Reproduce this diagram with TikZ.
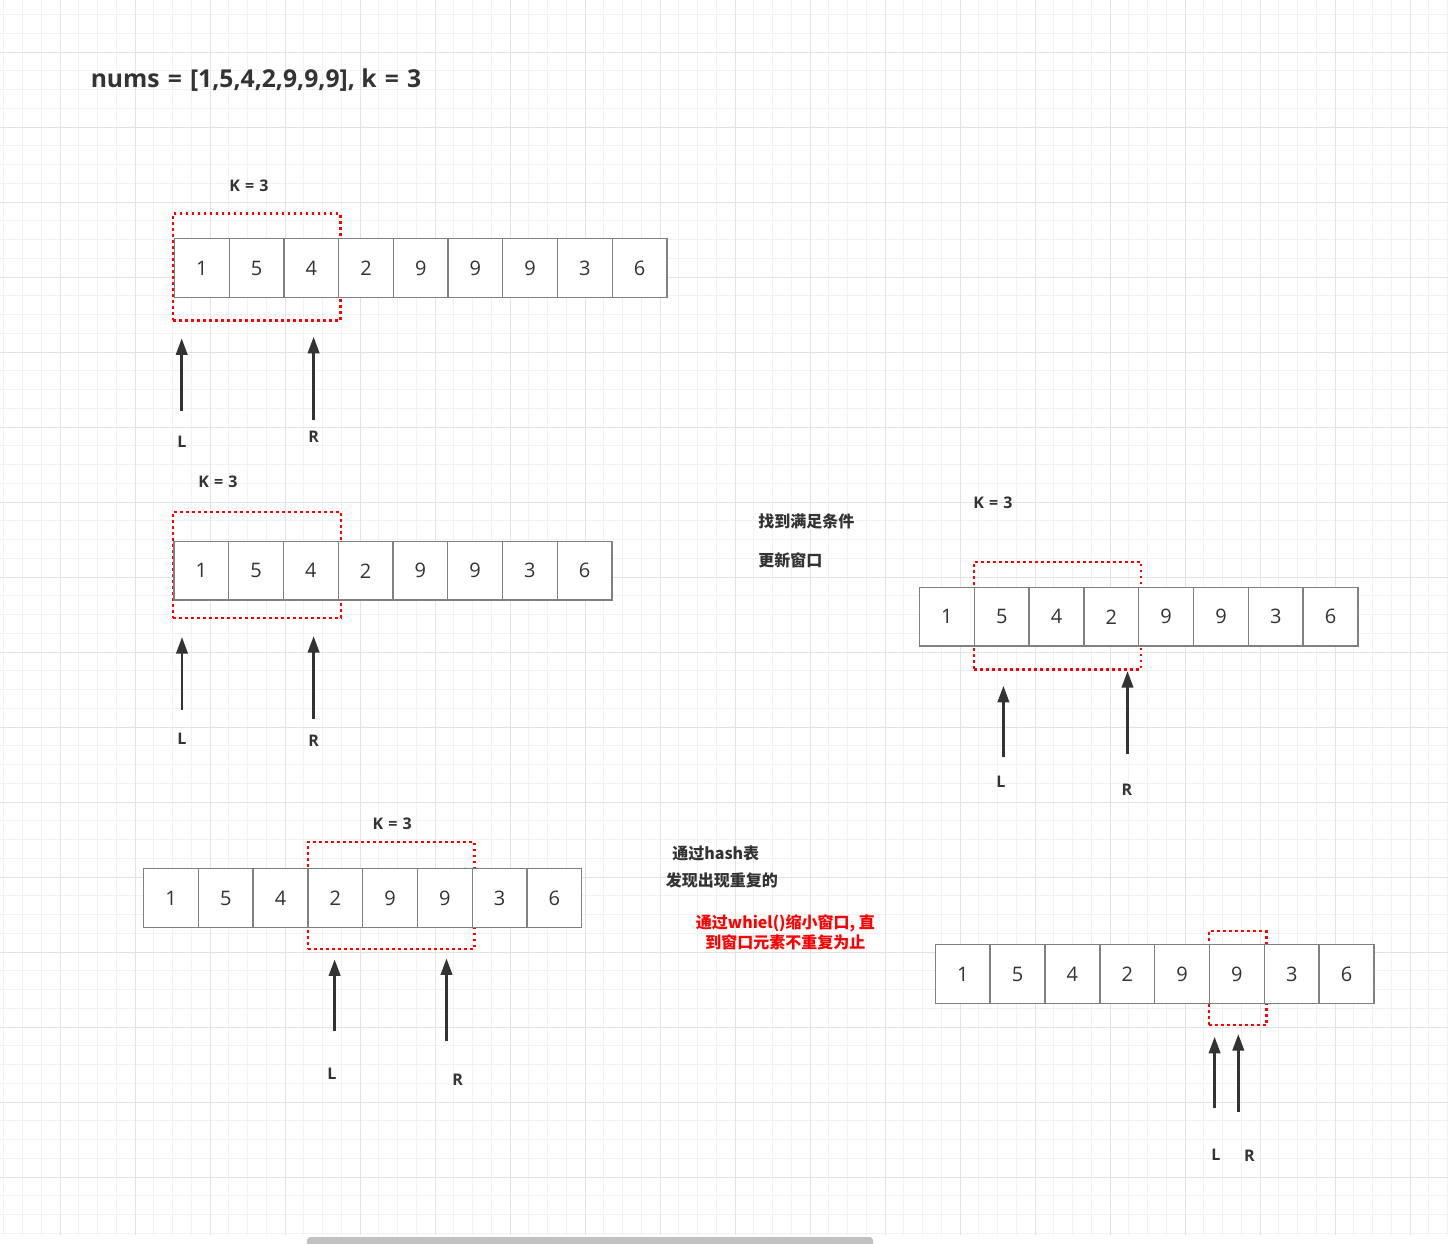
\documentclass[tikz,border=0pt]{standalone}
\usepackage{fontspec}
\setmainfont{Open Sans}
\newfontfamily\cjk{Noto Sans CJK SC}
\usetikzlibrary{arrows.meta}
\definecolor{txt}{HTML}{333333}
\definecolor{cellbd}{HTML}{808080}
\definecolor{gminor}{HTML}{F2F2F2}
\definecolor{gmajor}{HTML}{E3E3E3}
\definecolor{scrollc}{HTML}{C1C1C1}
\definecolor{winred}{HTML}{FF0000}
\tikzset{
  cell/.style={draw=cellbd, fill=white, line width=1pt, minimum width=41.06pt, minimum height=43.9pt,
    inner sep=0pt, outer sep=0pt, text=txt, font=\fontsize{15}{15}\selectfont},
  win/.style={draw=winred, line width=1.8pt, dash pattern=on 2.1pt off 2.4pt, inner sep=0pt, outer sep=0pt},
  ptr/.style={draw=txt, line width=2.2pt, -{Triangle[length=12.5pt,width=8.5pt]}, fill=txt},
  klabel/.style={text=txt, font=\bfseries\fontsize{12}{12}\selectfont, inner sep=0pt},
  plabel/.style={text=txt, font=\bfseries\fontsize{12}{12}\selectfont, inner sep=0pt},
  note/.style={text=txt, font=\cjk\bfseries\fontsize{12}{12}\selectfont, inner sep=0pt, anchor=west},
  rednote/.style={text=winred, font=\cjk\bfseries\fontsize{12}{15}\selectfont, inner sep=0pt, align=center}
}
\newcommand{\keq}{K\hspace{0.32em}=\hspace{0.32em}3}
\begin{document}
\begin{tikzpicture}[x=0.75pt,y=-0.75pt]
\useasboundingbox (0,0) rectangle (1448,1243);
\fill[white] (0,0) rectangle (1448,1243);
% grid
\foreach \i in {0,...,77} \draw[gminor, line width=0.75pt] ({3.75+18.75*\i},0) -- ({3.75+18.75*\i},1235);
\foreach \j in {0,...,65} \draw[gminor, line width=0.75pt] (0,{14.5+18.75*\j}) -- (1448,{14.5+18.75*\j});
\foreach \i in {0,...,18} \draw[gmajor, line width=0.75pt] ({60+75*\i},0) -- ({60+75*\i},1235);
\foreach \j in {0,...,15} \draw[gmajor, line width=0.75pt] (0,{52+75*\j}) -- (1448,{52+75*\j});
% scrollbar
\begin{scope}
\clip (0,0) rectangle (1448,1243);
\fill[scrollc, rounded corners=2.5pt] (307,1237) rectangle (873,1252);
\end{scope}

% title
\node[text=txt, font=\bfseries\fontsize{18.5}{18.5}\selectfont, anchor=west, inner sep=0pt] (title) at (90.5,80) {nums\hspace{0.33em}=\hspace{0.33em}[1,5,4,2,9,9,9], k\hspace{0.33em}=\hspace{0.33em}3};

% ---------- row 1 ----------
\node[win, minimum width=125.5pt, minimum height=80pt] (w1) at (256.7,267) {};
\foreach \v [count=\i] in {1,5,4,2,9,9,9,3,6}
  \node[cell] (a\i) at ({174.5+(\i-0.5)*54.72},268) {\v};
\node[klabel] (k1) at (249,186) {\keq};
\coordinate (l1s) at (181.7,410.7); \coordinate (l1e) at (181.7,338.3);
\coordinate (r1s) at (313.6,420); \coordinate (r1e) at (313.6,336.7);
\draw[ptr] (l1s) -- (l1e);
\draw[ptr] (r1s) -- (r1e);
\node[plabel] (L1) at (182,441.5) {L};
\node[plabel] (R1) at (313.6,436.5) {R};

% ---------- row 2 ----------
\node[win, minimum width=126pt, minimum height=79.5pt] (w2) at (257,565) {};
\foreach \v [count=\i] in {1,5,4,2,9,9,3,6}
  \node[cell] (b\i) at ({174+(\i-0.5)*54.75},570.75) {\v};
\node[klabel] (k2) at (218,482) {\keq};
\coordinate (l2s) at (182,710); \coordinate (l2e) at (182,637);
\coordinate (r2s) at (313.6,719); \coordinate (r2e) at (313.6,636);
\draw[ptr] (l2s) -- (l2e);
\draw[ptr] (r2s) -- (r2e);
\node[plabel] (L2) at (182,739) {L};
\node[plabel] (R2) at (313.6,741) {R};

% ---------- row 3 ----------
\node[win, minimum width=125.25pt, minimum height=80.7pt] (w3) at (1057.5,615.5) {};
\foreach \v [count=\i] in {1,5,4,2,9,9,3,6}
  \node[cell] (c\i) at ({919.5+(\i-0.5)*54.81},616.75) {\v};
\node[klabel] (k3) at (993,502.3) {\keq};
\coordinate (l3s) at (1003.4,757.3); \coordinate (l3e) at (1003.4,685.7);
\coordinate (r3s) at (1127.5,754.3); \coordinate (r3e) at (1127.5,671);
\draw[ptr] (l3s) -- (l3e);
\draw[ptr] (r3s) -- (r3e);
\node[plabel] (L3) at (1001,781.7) {L};
\node[plabel] (R3) at (1127,790) {R};
\node[note] (n1) at (758,521.7) {找到满足条件};
\node[note] (n2) at (758,560) {更新窗口};

% ---------- row 4 ----------
\node[win, minimum width=125pt, minimum height=80pt] (w4) at (391.25,895.35) {};
\foreach \v [count=\i] in {1,5,4,2,9,9,3,6}
  \node[cell] (d\i) at ({143.6+(\i-0.5)*54.78},898) {\v};
\node[klabel] (k4) at (392.2,824) {\keq};
\coordinate (l4s) at (334.6,1031); \coordinate (l4e) at (334.6,959.3);
\coordinate (r4s) at (446.5,1041); \coordinate (r4e) at (446.5,958.3);
\draw[ptr] (l4s) -- (l4e);
\draw[ptr] (r4s) -- (r4e);
\node[plabel] (L4) at (332,1073.3) {L};
\node[plabel] (R4) at (457.7,1079.3) {R};
\node[note] (n3) at (672,853.3) {通过hash表};
\node[note] (n4) at (665.6,880.7) {发现出现重复的};
\node[rednote] (n5) at (785.4,932.7) {通过whiel()缩小窗口, 直\\到窗口元素不重复为止};

% ---------- row 5 ----------
\node[win, minimum width=43.2pt, minimum height=70.5pt] (w5) at (1237.8,978) {};
\foreach \v [count=\i] in {1,5,4,2,9,9,3,6}
  \node[cell] (e\i) at ({935.3+(\i-0.5)*54.84},974) {\v};
\coordinate (l5s) at (1214.6,1108.3); \coordinate (l5e) at (1214.6,1036.7);
\coordinate (r5s) at (1238.3,1111.7); \coordinate (r5e) at (1238.3,1034);
\draw[ptr] (l5s) -- (l5e);
\draw[ptr] (r5s) -- (r5e);
\node[plabel] (L5) at (1216,1155) {L};
\node[plabel] (R5) at (1249.5,1155.7) {R};
\end{tikzpicture}
\end{document}
